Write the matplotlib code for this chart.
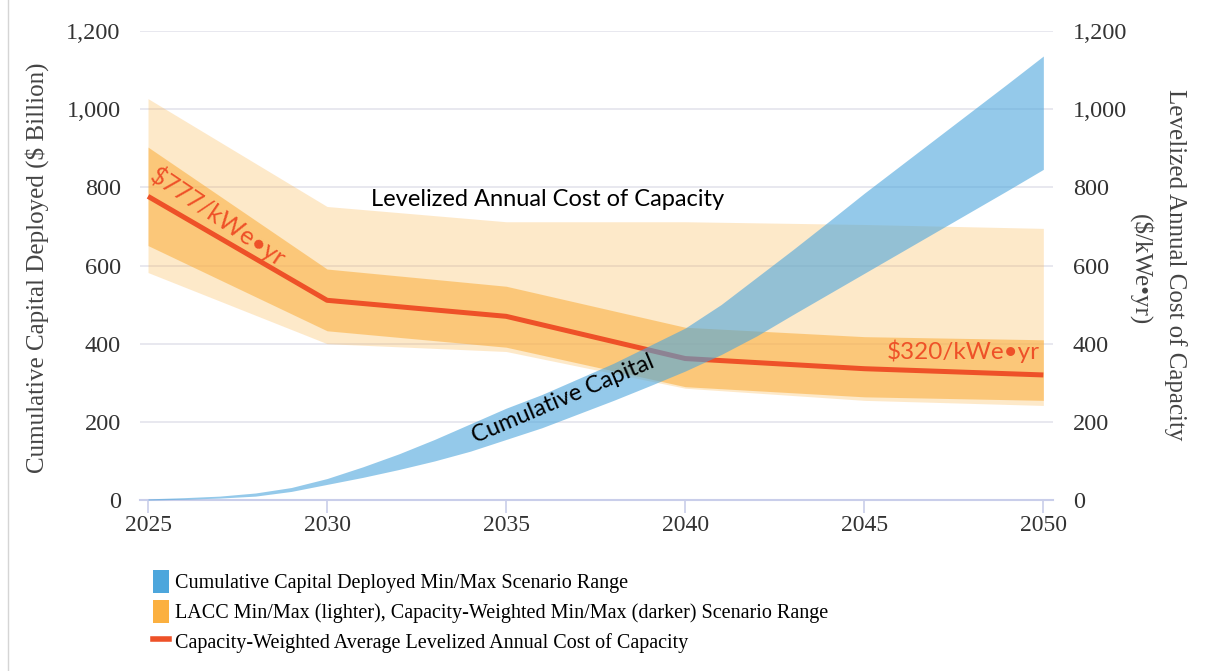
import matplotlib
matplotlib.use("Agg")
import matplotlib.pyplot as plt
from matplotlib.patches import Patch
from matplotlib.lines import Line2D

# LACC bands and average, read at 5-year points
years5 = [2025, 2030, 2035, 2040, 2045, 2050]
lacc_max = [1027, 751, 712, 712, 705, 695]
lacc_min = [582, 400, 380, 286, 255, 242]
cw_max = [903, 591, 547, 442, 418, 410]
cw_min = [651, 433, 391, 290, 264, 255]
cw_avg = [777, 511, 470, 362, 336, 320]

# cumulative capital deployed range, read per year
years = list(range(2025, 2051))
cap_max = [3, 6, 10, 18, 32, 55, 85, 118, 155, 195, 235, 270, 310, 350, 395,
           440, 500, 570, 640, 712, 785, 855, 925, 995, 1065, 1136]
cap_min = [0, 2, 5, 10, 22, 40, 58, 78, 100, 125, 155, 185, 220, 255, 292,
           330, 372, 420, 474, 527, 580, 633, 686, 739, 792, 846]

xticks = [2025, 2030, 2035, 2040, 2045, 2050]
yticks = [0, 200, 400, 600, 800, 1000, 1200]
ytick_labels = ["0", "200", "400", "600", "800", "1,000", "1,200"]

orange = "#FBB040"
blue = "#4DA6DC"
red = "#EE5128"
serif = "Liberation Serif"
sans = "Lato"

fig = plt.figure(figsize=(12.08, 6.71), dpi=100)
ax = fig.add_axes([0.116, 0.2548, 0.756, 0.699])

ax.fill_between(years5, lacc_min, lacc_max, color=orange, alpha=0.28, lw=0, zorder=1)
ax.fill_between(years5, cw_min, cw_max, color=orange, alpha=0.58, lw=0, zorder=2)
ax.plot(years5, cw_avg, color=red, lw=3.6, solid_capstyle="butt", zorder=3)
ax.fill_between(years, cap_min, cap_max, color=blue, alpha=0.6, lw=0, zorder=4)

ax.set_xlim(2024.78, 2050.28)
ax.set_ylim(0, 1200)
ax.set_xticks(xticks)
ax.set_yticks(yticks)
ax.set_yticklabels(ytick_labels)
ax.grid(axis="y", color="#E4E4EC", lw=1.2, zorder=0)
ax.set_axisbelow(True)
for s in ["top", "right", "left"]:
    ax.spines[s].set_visible(False)
ax.spines["bottom"].set_color("#C9CEEA")
ax.spines["bottom"].set_linewidth(1.5)
ax.tick_params(axis="x", length=9, width=1.2, color="#C9CEEA", pad=2,
               labelsize=17, labelcolor="#333333")
ax.tick_params(axis="y", length=0, pad=14, labelsize=17.5, labelcolor="#333333")
for lab in ax.get_xticklabels() + ax.get_yticklabels():
    lab.set_family(serif)
ax.set_ylabel("Cumulative Capital Deployed ($ Billion)", family=serif,
              fontsize=18, color="#444444")
ax.yaxis.set_label_coords(-0.1, 0.495)

ax2 = ax.twinx()
ax2.set_ylim(0, 1200)
ax2.set_yticks(yticks)
ax2.set_yticklabels(ytick_labels)
for s in ["top", "right", "left", "bottom"]:
    ax2.spines[s].set_visible(False)
ax2.tick_params(axis="y", length=0, pad=14, labelsize=17.5, labelcolor="#333333")
for lab in ax2.get_yticklabels():
    lab.set_family(serif)

# right axis title, two lines
fig.text(0.9735, 0.605, "Levelized Annual Cost of Capacity", family=serif,
         fontsize=18, color="#444444", rotation=270, ha="center", va="center")
fig.text(0.9445, 0.598, "($/kWe\u2022yr)", family=serif,
         fontsize=18, color="#444444", rotation=270, ha="center", va="center")

# annotations
ax.text(2026.95, 726, "$777/kWe\u2022yr", color=red, family=sans, fontsize=18,
        rotation=-34, ha="center", va="center", zorder=6)
ax.text(2049.9, 380, "$320/kWe\u2022yr", color=red, family=sans, fontsize=17.5,
        ha="right", va="center", zorder=6)
ax.text(2036.15, 770, "Levelized Annual Cost of Capacity", color="black",
        family=sans, fontsize=17, ha="center", va="center", zorder=6)
ax.text(2036.6, 258, "Cumulative Capital", color="black", family=sans,
        fontsize=17, rotation=23, ha="center", va="center", zorder=6)

handles = [
    Patch(facecolor=blue, edgecolor="none"),
    Patch(facecolor=orange, edgecolor="none"),
    Line2D([], [], color=red, lw=4),
]
labels = [
    "Cumulative Capital Deployed Min/Max Scenario Range",
    "LACC Min/Max (lighter), Capacity-Weighted Min/Max (darker) Scenario Range",
    "Capacity-Weighted Average Levelized Annual Cost of Capacity",
]
fig.legend(handles, labels, loc="upper left", bbox_to_anchor=(0.127, 0.15),
           frameon=False, prop={"family": serif, "size": 14.5},
           handlelength=0.75, handleheight=1.35, handletextpad=0.3,
           labelspacing=0.33, borderaxespad=0, borderpad=0)

fig.add_artist(Line2D([0.007, 0.007], [0.0, 1.0], color="#D5D5D5", lw=1))

fig.savefig("out.png", dpi=100)
